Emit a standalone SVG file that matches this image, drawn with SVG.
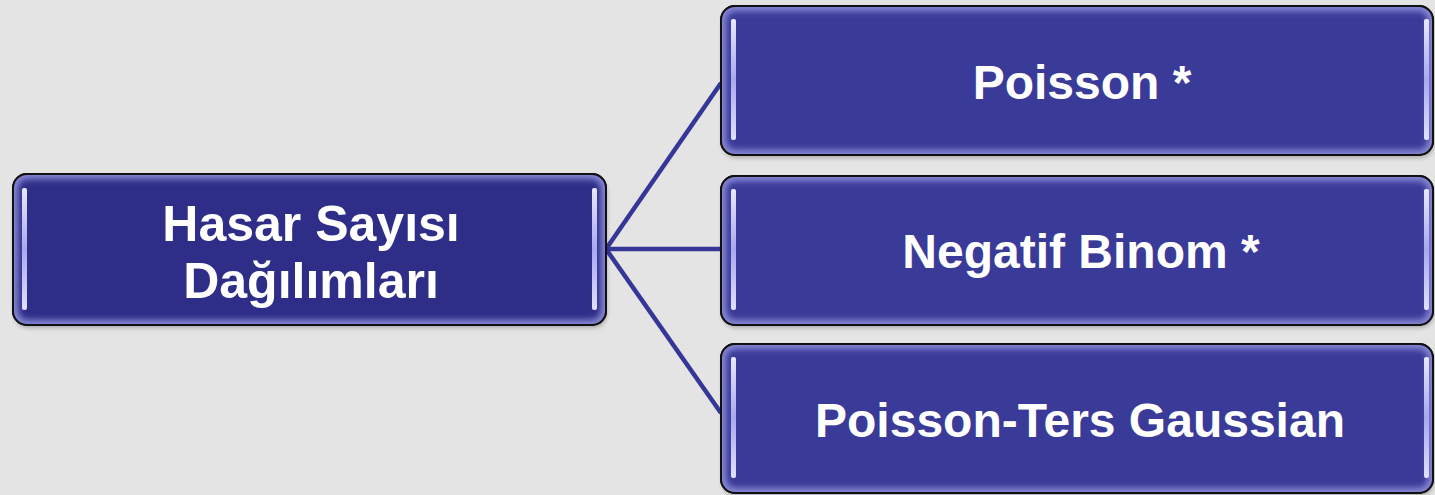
<svg xmlns="http://www.w3.org/2000/svg" width="1435" height="495" viewBox="0 0 1435 495">
<defs>
<filter id="blur" x="-5%" y="-5%" width="110%" height="110%"><feGaussianBlur stdDeviation="3"/></filter>
<filter id="sh" x="-5%" y="-5%" width="110%" height="115%"><feGaussianBlur stdDeviation="2"/></filter>
<linearGradient id="hl" x1="0" y1="0" x2="0" y2="1">
<stop offset="0" stop-color="#e8e8ff"/><stop offset="0.5" stop-color="#a8a8f0"/><stop offset="1" stop-color="#e0e0ff"/>
</linearGradient>
<clipPath id="c0"><rect x="13" y="174" width="593" height="151" rx="14"/></clipPath>
<clipPath id="c1"><rect x="721" y="6" width="712" height="149" rx="14"/></clipPath>
<clipPath id="c2"><rect x="721" y="176" width="712" height="149" rx="14"/></clipPath>
<clipPath id="c3"><rect x="721" y="344" width="712" height="149" rx="14"/></clipPath>
</defs>
<style>
.bg{fill:#e4e4e4}
.edge{stroke:#363698;stroke-width:4.5;fill:none}
.out{stroke:#111;stroke-width:2}
.shadow{fill:#000;opacity:0.25}
.glow{fill:none;stroke:#8a8ad8;stroke-width:10}
.hl{fill:url(#hl)}
.t{font-family:"Liberation Sans",Arial,sans-serif;font-weight:bold;font-size:50px;fill:#fff;text-anchor:middle}
.r{font-size:48px}
</style>
<rect class="bg" width="1435" height="495"/>
<g id="connectors">
<line class="edge" x1="606" y1="249" x2="721" y2="83"/>
<line class="edge" x1="606" y1="249" x2="721" y2="249"/>
<line class="edge" x1="606" y1="249" x2="721" y2="413"/>
</g>
<g id="root">
<rect class="shadow" x="14" y="177" width="593" height="151" rx="14" filter="url(#sh)"/>
<rect class="out" x="13" y="174" width="593" height="151" rx="14" fill="#2e2e88"/>
<rect class="glow" x="13" y="174" width="593" height="151" rx="14" clip-path="url(#c0)" filter="url(#blur)"/>
<rect class="out" x="13" y="174" width="593" height="151" rx="14" fill="none"/>
<rect class="hl" x="22" y="188" width="5" height="122" rx="2"/>
<rect class="hl" x="592" y="188" width="5" height="122" rx="2"/>
<text class="t" x="311" y="241">Hasar Sayısı</text>
<text class="t" x="311" y="298">Dağılımları</text>
</g>
<g id="n1">
<rect class="shadow" x="722" y="9" width="712" height="149" rx="14" filter="url(#sh)"/>
<rect class="out" x="721" y="6" width="712" height="149" rx="14" fill="#3a3a98"/>
<rect class="glow" x="721" y="6" width="712" height="149" rx="14" clip-path="url(#c1)" filter="url(#blur)"/>
<rect class="out" x="721" y="6" width="712" height="149" rx="14" fill="none"/>
<rect class="hl" x="731" y="19" width="5" height="121" rx="2"/>
<rect class="hl" x="1424" y="19" width="5" height="121" rx="2"/>
<text class="t r" x="1082" y="99">Poisson *</text>
</g>
<g id="n2">
<rect class="shadow" x="722" y="179" width="712" height="149" rx="14" filter="url(#sh)"/>
<rect class="out" x="721" y="176" width="712" height="149" rx="14" fill="#3a3a98"/>
<rect class="glow" x="721" y="176" width="712" height="149" rx="14" clip-path="url(#c2)" filter="url(#blur)"/>
<rect class="out" x="721" y="176" width="712" height="149" rx="14" fill="none"/>
<rect class="hl" x="731" y="189" width="5" height="121" rx="2"/>
<rect class="hl" x="1424" y="189" width="5" height="121" rx="2"/>
<text class="t r" x="1081" y="268">Negatif Binom *</text>
</g>
<g id="n3">
<rect class="shadow" x="722" y="347" width="712" height="149" rx="14" filter="url(#sh)"/>
<rect class="out" x="721" y="344" width="712" height="149" rx="14" fill="#3a3a98"/>
<rect class="glow" x="721" y="344" width="712" height="149" rx="14" clip-path="url(#c3)" filter="url(#blur)"/>
<rect class="out" x="721" y="344" width="712" height="149" rx="14" fill="none"/>
<rect class="hl" x="731" y="357" width="5" height="121" rx="2"/>
<rect class="hl" x="1424" y="357" width="5" height="121" rx="2"/>
<text class="t r" x="1080" y="437">Poisson-Ters Gaussian</text>
</g>
</svg>
